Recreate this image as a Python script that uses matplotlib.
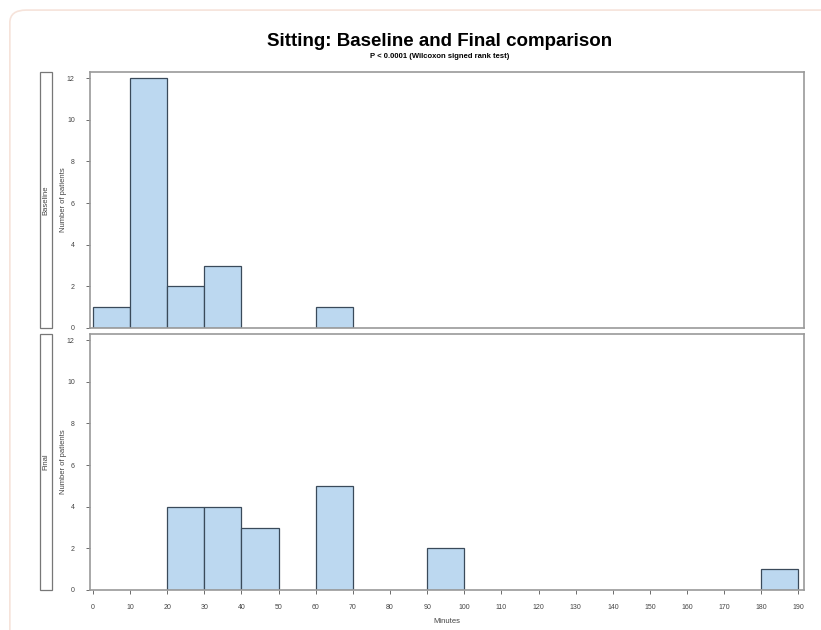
"""
Sitting: baseline vs final histogram panels (lattice style).
"""
import matplotlib.pyplot as plt
from matplotlib.patches import FancyBboxPatch, Rectangle

plt.rcParams["font.family"] = ["Liberation Sans", "DejaVu Sans"]

# histogram bins (left edges, width 10 minutes) and counts
baseline_bins = [0, 10, 20, 30, 60]
baseline_counts = [1, 12, 2, 3, 1]
final_bins = [20, 30, 40, 60, 90, 180]
final_counts = [4, 4, 3, 5, 2, 1]
bin_width = 10
panel_names = ["Baseline", "Final"]
x_ticks = list(range(0, 200, 10))
y_ticks = [0, 2, 4, 6, 8, 10, 12]

BAR = "#bcd8f0"
EDGE = "#3a4a5a"
FRAME = "#9a9a9a"

fig = plt.figure(figsize=(8.21, 6.30), dpi=100)

# faint rounded page border
fig.patches.append(FancyBboxPatch((0.012, -0.05), 1.2, 1.034,
                                  boxstyle="round,pad=0,rounding_size=0.02",
                                  transform=fig.transFigure, fill=False,
                                  edgecolor="#f6e3da", linewidth=1.2))

left, width = 90 / 821, (804 - 90) / 821
panels = [
    (1 - 328 / 630, (328 - 72) / 630),
    (1 - 590 / 630, (590 - 334) / 630),
]
data = [(baseline_bins, baseline_counts), (final_bins, final_counts)]

for i, ((bottom, height), (bins, counts), name) in enumerate(zip(panels, data, panel_names)):
    ax = fig.add_axes([left, bottom, width, height])
    ax.bar(bins, counts, width=bin_width, align="edge", color=BAR,
           edgecolor=EDGE, linewidth=0.9)
    ax.set_xlim(-0.8, 191.5)
    ax.set_ylim(0, 12.3)
    ax.set_yticks(y_ticks)
    ax.tick_params(axis="y", labelsize=5, length=3, width=0.6, color="#555555",
                   labelcolor="#444444", pad=8)
    for s in ax.spines.values():
        s.set_color(FRAME)
        s.set_linewidth(1.2)
    ax.set_ylabel("Number of patients", fontsize=5.5, color="#444444")
    ax.yaxis.set_label_coords(-0.032, 0.5)
    if i == 1:
        ax.set_xticks(x_ticks)
        ax.tick_params(axis="x", labelsize=5, length=3, width=0.6, color="#555555",
                       labelcolor="#444444", pad=7)
        ax.set_xlabel("Minutes", fontsize=5.5, color="#444444", labelpad=5)
    else:
        ax.set_xticks([])

    # strip box on the left with panel name
    sx, sw = 40 / 821, 12 / 821
    fig.patches.append(Rectangle((sx, bottom), sw, height, transform=fig.transFigure,
                                 fill=False, edgecolor="#777777", linewidth=0.9))
    fig.text(sx + sw / 2, bottom + height / 2, name, rotation=90, fontsize=5.5,
             ha="center", va="center", color="#444444")

fig.text(0.535, 1 - 42 / 630, "Sitting: Baseline and Final comparison",
         fontsize=13.5, fontweight="bold", ha="center", va="center")
fig.text(0.535, 1 - 57 / 630, "P < 0.0001 (Wilcoxon signed rank test)",
         fontsize=5.5, fontweight="bold", ha="center", va="center")

fig.savefig("out.png", dpi=100)
